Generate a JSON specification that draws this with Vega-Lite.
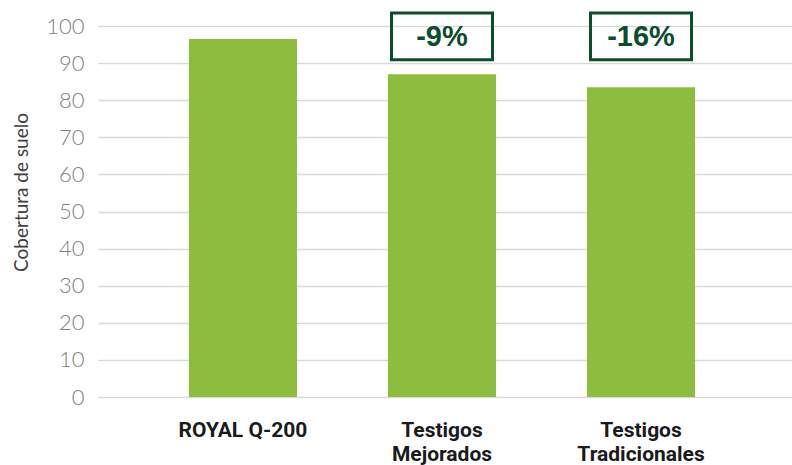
{
  "$schema": "https://vega.github.io/schema/vega-lite/v6.json",
  "width": 694,
  "height": 371,
  "autosize": "none",
  "padding": {"left": 98, "top": 26, "right": 0, "bottom": 68},
  "background": "#ffffff",
  "config": {
    "view": {"stroke": null},
    "axisY": {
      "tickCount": 10,
      "labelOverlap": false,
      "ticks": false,
      "domain": false,
      "labelFont": "Lato",
      "labelFontWeight": 300,
      "labelFontSize": 22,
      "labelColor": "#7f7f7f",
      "labelPadding": 14,
      "gridColor": "#d9d9d9",
      "gridWidth": 1.5,
      "titleFont": "Lato",
      "titleFontWeight": 400,
      "titleFontSize": 19,
      "titleColor": "#404040",
      "titlePadding": 14
    }
  },
  "data": {
    "values": [
      {"grupo": "ROYAL Q-200", "cobertura": 96.5, "diferencia": null},
      {"grupo": "Testigos Mejorados", "cobertura": 87, "diferencia": "-9%"},
      {"grupo": "Testigos Tradicionales", "cobertura": 83.5, "diferencia": "-16%"}
    ]
  },
  "encoding": {
    "x": {
      "field": "grupo",
      "type": "nominal",
      "sort": null,
      "scale": {"paddingInner": 0.457, "paddingOuter": 0.472, "align": 0.484},
      "axis": {
        "title": null,
        "labelAngle": 0,
        "ticks": false,
        "domain": false,
        "labelExpr": "datum.value == 'ROYAL Q-200' ? datum.value : split(datum.value, ' ')",
        "labelFont": "Roboto",
        "labelFontWeight": "bold",
        "labelFontSize": 21,
        "labelColor": "#1a1a1a",
        "labelBaseline": "top",
        "labelLineHeight": 24,
        "labelPadding": 22
      }
    }
  },
  "layer": [
    {
      "mark": {"type": "bar", "color": "#8cbd3f"},
      "encoding": {
        "y": {
          "field": "cobertura",
          "type": "quantitative",
          "scale": {"domain": [0, 100], "nice": false},
          "axis": {"title": "Cobertura de suelo", "tickCount": 10, "titleY": 166}
        }
      }
    },
    {
      "transform": [{"filter": "datum.diferencia != null"}],
      "mark": {
        "type": "point",
        "shape": "M-1,-0.465H1V0.465H-1Z",
        "size": 10201,
        "filled": false,
        "stroke": "#0b4d2c",
        "strokeWidth": 3,
        "opacity": 1
      },
      "encoding": {"y": {"datum": 97.2}}
    },
    {
      "transform": [{"filter": "datum.diferencia != null"}],
      "mark": {
        "type": "text",
        "font": "Liberation Sans",
        "fontWeight": "bold",
        "fontSize": 29,
        "color": "#0b4d2c",
        "baseline": "middle",
        "dy": 1
      },
      "encoding": {"y": {"datum": 97.2}, "text": {"field": "diferencia"}}
    }
  ]
}
